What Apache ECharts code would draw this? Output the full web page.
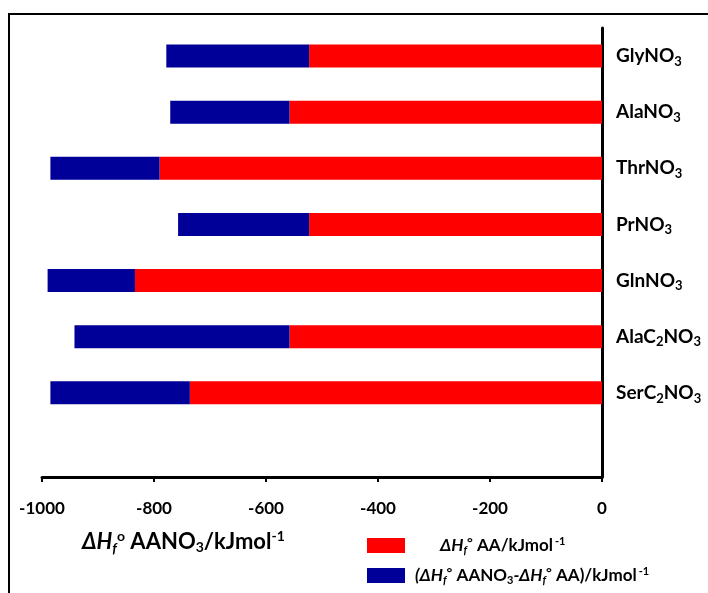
<!DOCTYPE html>
<html>
<head>
<meta charset="utf-8">
<script src="https://cdn.jsdelivr.net/npm/echarts@6/dist/echarts.min.js"></script>
<style>
  html, body { margin: 0; padding: 0; background: #fff; }
  #chart { width: 708px; height: 593px; }
</style>
</head>
<body>
<div id="chart"></div>
<script>
// Compounds, top to bottom (last slot left empty)
const categories = ['GlyNO3', 'AlaNO3', 'ThrNO3', 'PrNO3', 'GlnNO3', 'AlaC2NO3', 'SerC2NO3', ''];
// ΔHf° of the amino acid, kJ/mol
const aaEnthalpy = [-523, -558, -790, -523, -834, -558, -736];
// ΔHf° AANO3 − ΔHf° AA, kJ/mol
const nitrateIncrement = [-255, -213, -195, -234, -156, -384, -249];
const xTicks = { min: -1000, max: 0, interval: 200 };

const FONT = 'Lato, "Open Sans", sans-serif';

// Turn digits in a formula into subscripts
function formula(name) {
  if (!name) return '';
  const parts = name.split(/(\d)/).filter(p => p !== '');
  return parts.map(p => /\d/.test(p) ? '{s|' + p + '}' : '{b|' + p + '}').join('');
}

function txt(size, extra) {
  return Object.assign({ fontFamily: FONT, fontWeight: 'bold', fontSize: size, color: '#000' }, extra || {});
}

const chart = echarts.init(document.getElementById('chart'));
chart.setOption({
  animation: false,
  backgroundColor: '#fff',
  grid: { left: 42, right: 106, top: 28, bottom: 116, containLabel: false },
  xAxis: {
    type: 'value',
    min: xTicks.min, max: xTicks.max, interval: xTicks.interval,
    axisLine: { show: true, onZero: false, lineStyle: { color: '#000', width: 3 } },
    axisTick: { show: true, length: 5, lineStyle: { color: '#000', width: 2 } },
    splitLine: { show: false },
    axisLabel: {
      margin: 23, color: '#000', fontFamily: FONT, fontWeight: 'bold', fontSize: 17,
      formatter: v => String(v)
    }
  },
  yAxis: {
    type: 'category',
    data: categories,
    inverse: true,
    position: 'right',
    axisLine: { show: true, onZero: false, lineStyle: { color: '#000', width: 3 } },
    axisTick: { show: false },
    splitLine: { show: false },
    axisLabel: {
      margin: 14,
      formatter: formula,
      rich: {
        b: txt(19),
        s: txt(13, { padding: [11, 0, 0, 0] })
      }
    }
  },
  legend: [
    {
      data: ['aa'], left: 362, top: 530, itemWidth: 38, itemHeight: 15,
      icon: 'rect', selectedMode: false, itemGap: 0,
      formatter: () => '{i|ΔH}{f|f}{d|°}{t| AA/kJmol}{p|-1}',
      textStyle: {
        rich: {
          i: txt(17, { fontStyle: 'italic', padding: [0, 0, 0, 30] }),
          f: txt(11, { fontStyle: 'italic', padding: [9, 0, 0, 0] }),
          d: txt(14, { padding: [0, 0, 7, 0] }),
          t: txt(17),
          p: txt(11, { padding: [0, 0, 8, 2] })
        }
      }
    },
    {
      data: ['inc'], left: 362, top: 560, itemWidth: 38, itemHeight: 15,
      icon: 'rect', selectedMode: false, itemGap: 0,
      formatter: () => '{a|(ΔH}{f|f}{d|°}{t| AANO}{s|3}{i|-ΔH}{f|f}{d|°}{t| AA)/kJmol}{p|-1}',
      textStyle: {
        rich: {
          a: txt(17, { fontStyle: 'italic', padding: [0, 0, 0, 5] }),
          i: txt(17, { fontStyle: 'italic' }),
          f: txt(11, { fontStyle: 'italic', padding: [9, 0, 0, 0] }),
          d: txt(14, { padding: [0, 0, 7, 0] }),
          t: txt(17),
          s: txt(11, { padding: [9, 0, 0, 0] }),
          p: txt(11, { padding: [0, 0, 8, 2] })
        }
      }
    }
  ],
  title: {
    left: 77, top: 524,
    text: '{i|ΔH}{f|f}{d|o}{t| AANO}{s|3}{t|/kJmol}{p|-1}',
    textStyle: {
      rich: {
        i: txt(22, { fontStyle: 'italic' }),
        f: txt(14, { fontStyle: 'italic', padding: [12, 0, 0, 0] }),
        d: txt(14, { padding: [0, 0, 11, 0] }),
        t: txt(22),
        s: txt(14, { padding: [11, 0, 0, 0] }),
        p: txt(14, { padding: [0, 0, 11, 0] })
      }
    }
  },
  graphic: [
    {
      type: 'rect', silent: true,
      shape: { x: 9, y: 14, width: 800, height: 700 },
      style: { fill: 'none', stroke: '#000', lineWidth: 2 }
    }
  ],
  series: [
    {
      name: 'aa', type: 'bar', stack: 'total', barWidth: 23,
      itemStyle: { color: '#ff0000' },
      data: aaEnthalpy
    },
    {
      name: 'inc', type: 'bar', stack: 'total', barWidth: 23,
      itemStyle: { color: '#000099' },
      data: nitrateIncrement
    }
  ]
});
</script>
</body>
</html>
